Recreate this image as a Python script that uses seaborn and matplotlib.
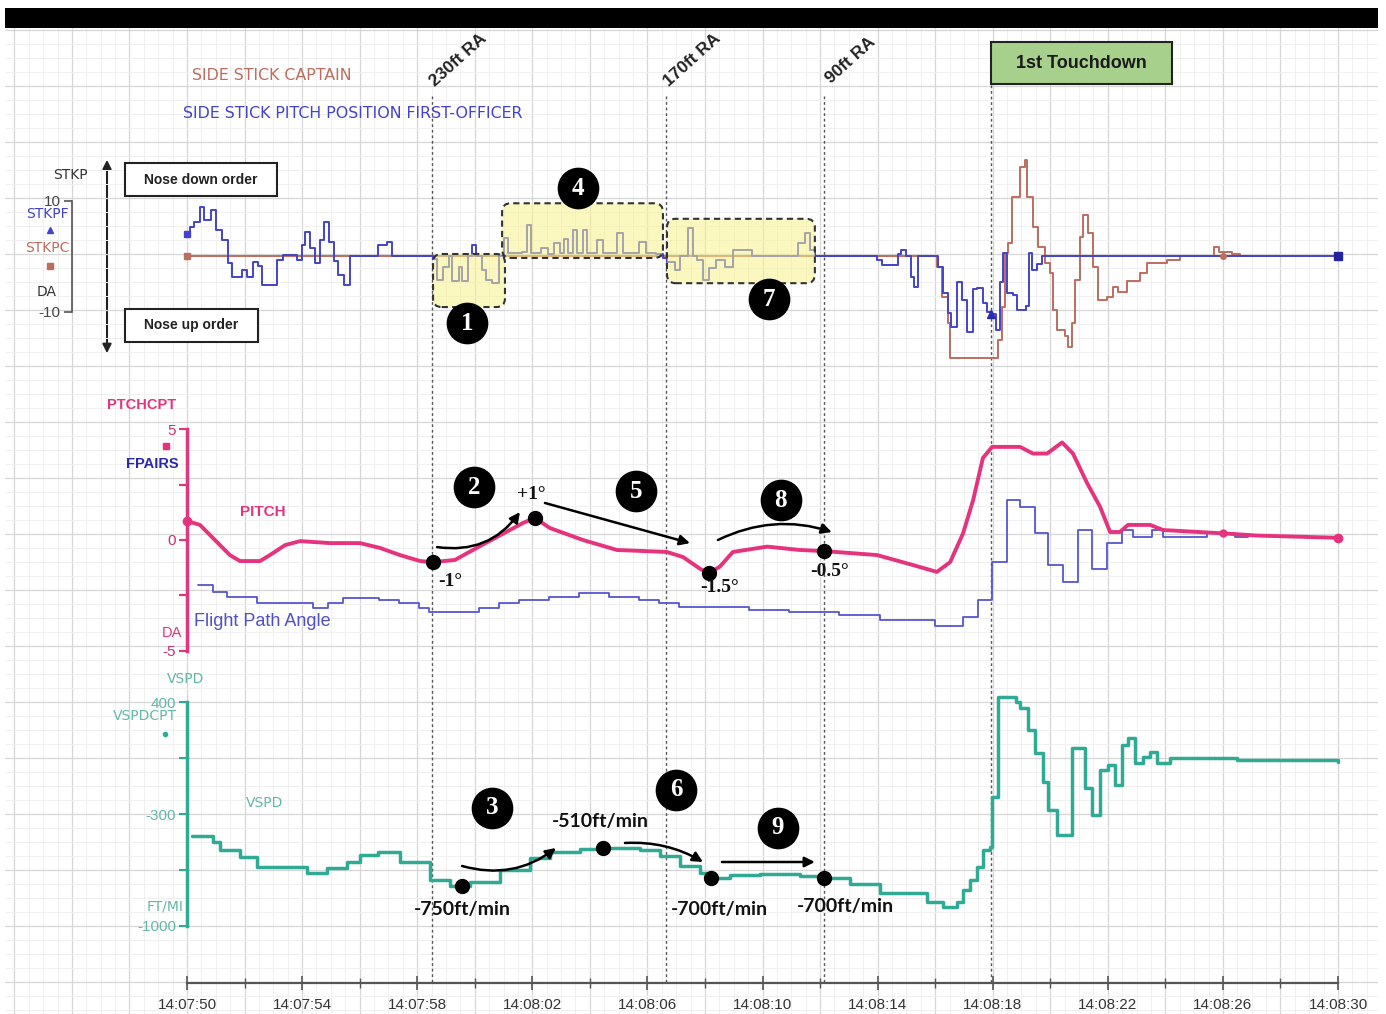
import numpy as np
import pandas as pd
import matplotlib
matplotlib.use("Agg")
import matplotlib.pyplot as plt
import seaborn as sns
from matplotlib.patches import Rectangle, FancyBboxPatch, FancyArrowPatch
from matplotlib.lines import Line2D
from matplotlib.transforms import blended_transform_factory
from matplotlib.ticker import MultipleLocator, FixedLocator

# ---------------------------------------------------------------- data
# time axis labels (UTC) and elapsed seconds from the first one
time_labels = ["14:07:50", "14:07:54", "14:07:58", "14:08:02", "14:08:06", "14:08:10",
               "14:08:14", "14:08:18", "14:08:22", "14:08:26", "14:08:30"]

# event markers (s after 14:07:50)
ra_times = [8.51, 16.65, 22.14]
ra_labels = ["230ft RA", "170ft RA", "90ft RA"]
touchdown_time = 27.94

# side stick pitch position, first officer (deg, step samples)
fo_t = [0.00, 0.10, 0.25, 0.45, 0.60, 0.85, 1.00, 1.20, 1.42, 1.56,
        1.91, 2.08, 2.30, 2.47, 2.61, 3.13, 3.34, 3.82, 4.00, 4.10,
        4.27, 4.45, 4.62, 4.75, 4.95, 5.10, 5.25, 5.45, 5.66, 6.64,
        6.95, 7.12, 8.55, 8.70, 8.90, 9.10, 9.20, 9.45, 9.55, 9.75,
        9.90, 10.05, 10.25, 10.40, 10.60, 10.85, 11.00, 11.15, 11.65, 11.80,
        11.95, 12.30, 12.55, 12.75, 12.95, 13.10, 13.25, 13.40, 13.55, 13.75,
        13.90, 14.25, 14.45, 14.95, 15.15, 15.70, 15.95, 16.30, 16.55, 16.68,
        16.96, 17.13, 17.41, 17.58, 17.72, 17.93, 18.15, 18.40, 18.70, 18.98,
        19.63, 21.23, 21.48, 21.64, 21.82, 23.98, 24.15, 24.70, 24.80, 25.00,
        25.15, 25.25, 25.40, 26.10, 26.27, 26.45, 26.55, 26.75, 26.95, 27.10,
        27.30, 27.45, 27.65, 27.80, 27.95, 28.10, 28.25, 28.36, 28.50, 28.70,
        28.84, 29.15, 29.25, 29.35, 29.55, 29.70, 40.00]
fo_v = [4.0, 5.2, 6.1, 8.8, 6.5, 8.3, 4.7, 2.9, -1.3, -3.7,
        -2.5, -3.7, -1.1, -1.8, -5.2, -0.7, 0.2, -0.8, 2.0, 4.3,
        1.5, -1.2, 2.9, 6.1, 2.5, -0.9, -3.4, -5.2, 0.0, 2.0,
        2.5, 0.0, -0.5, -4.3, -2.0, 0.0, -4.5, -2.0, -4.5, 0.0,
        2.0, 0.0, -2.5, -4.3, -4.9, 0.0, 3.2, 0.5, 0.8, 5.6,
        0.5, 1.5, 0.4, 2.3, 0.5, 3.0, 0.5, 4.7, 0.5, 4.7,
        0.5, 2.9, 0.5, 4.2, 0.5, 2.5, 0.5, 0.3, -0.3, -1.0,
        -2.5, 0.0, 5.0, 0.0, -0.8, -4.3, -2.2, -0.7, -2.0, 1.0,
        0.0, 2.3, 4.1, 1.0, 0.0, -0.8, -1.6, 0.3, 1.0, 0.0,
        -3.8, -5.6, 0.0, -2.0, -6.7, -10.3, -12.8, -4.7, -8.0, -13.7,
        -6.0, -5.8, -8.5, -10.1, -10.5, -13.3, -4.7, 0.5, -6.7, -7.0,
        -9.7, -9.0, 0.5, -2.5, -1.5, 0.0, 0.0]

# side stick, captain (deg, step samples)
cap_t = [0.0, 26.06, 26.25, 26.45, 26.52, 28.18, 28.32, 28.43, 28.53, 28.67,
         28.95, 29.12, 29.19, 29.40, 29.57, 29.82, 29.99, 30.10, 30.23, 30.51,
         30.62, 30.76, 30.86, 31.03, 31.14, 31.31, 31.49, 31.66, 31.97, 32.18,
         32.35, 32.67, 33.12, 33.36, 34.06, 34.50, 35.70, 35.85, 36.30, 36.60, 38.60]
cap_v = [0.0, -2.0, -7.4, -12.0, -18.4, -15.1, -9.2, 0.5, 2.3, 10.6,
         16.0, 17.3, 10.6, 5.2, 1.6, -1.3, -3.1, -9.7, -13.3, -14.5,
         -16.4, -12.0, -4.3, 3.4, 7.4, 4.1, -2.0, -7.9, -7.4, -5.6,
         -6.5, -4.5, -3.1, -1.3, -0.8, 0.0, 1.6, 0.8, 0.3, 0.0, 0.0]

# pitch attitude (deg)
pitch_t = [0.00, 0.45, 0.97, 1.49, 1.84, 2.54, 2.88, 3.41, 3.93, 4.97,
           6.01, 6.71, 7.40, 8.10, 8.55, 9.31, 10.29, 11.22, 11.68, 12.09,
           12.61, 13.76, 14.94, 16.68, 17.24, 17.83, 18.14, 18.52, 18.97, 20.16,
           21.30, 22.14, 23.98, 25.23, 26.06, 26.52, 26.97, 27.32, 27.66, 27.98,
           28.95, 29.40, 29.89, 30.41, 30.79, 31.28, 31.73, 32.08, 32.42, 32.70,
           33.47, 33.92, 36.00, 37.19, 40.00]
pitch_v = [0.86, 0.68, 0.0, -0.68, -0.95, -0.95, -0.68, -0.23, -0.05, -0.14,
           -0.14, -0.36, -0.68, -0.95, -1.0, -0.9, -0.2, 0.45, 0.77, 1.0,
           0.54, 0.0, -0.45, -0.54, -0.77, -1.3, -1.5, -1.2, -0.54, -0.3,
           -0.45, -0.5, -0.68, -1.13, -1.44, -1.0, 0.3, 1.8, 3.7, 4.2,
           4.2, 3.9, 3.9, 4.4, 3.9, 2.57, 1.5, 0.36, 0.36, 0.68,
           0.68, 0.45, 0.3, 0.2, 0.1]

# flight path angle (deg, step samples)
fpa_t = [0.38, 0.90, 1.39, 2.43, 4.38, 4.90, 5.42, 6.67, 7.37, 8.06,
         8.41, 10.15, 10.84, 11.54, 12.58, 13.62, 14.67, 15.71, 16.40, 17.10,
         18.49, 19.53, 20.92, 22.66, 24.08, 25.99, 26.97, 27.49, 27.98, 28.50,
         28.95, 29.47, 29.92, 30.44, 30.96, 31.45, 31.97, 32.49, 32.88, 33.54,
         33.92, 35.45, 36.42, 36.87]
fpa_v = [-2.03, -2.34, -2.57, -2.84, -3.06, -2.84, -2.6, -2.7, -2.84, -3.06,
         -3.24, -3.06, -2.84, -2.7, -2.57, -2.39, -2.57, -2.7, -2.84, -3.02,
         -3.02, -3.15, -3.24, -3.38, -3.6, -3.9, -3.47, -2.7, -0.99, 1.8,
         1.5, 0.3, -1.13, -1.9, 0.45, -1.3, -0.14, 0.45, 0.14, 0.45,
         0.14, 0.3, 0.14, 0.14]

# vertical speed (ft/min, step samples)
vspd_t = [0.17, 0.90, 1.15, 1.84, 2.43, 4.17, 4.87, 5.56, 6.01, 6.64,
          7.40, 8.44, 9.14, 9.83, 10.88, 11.92, 12.61, 13.66, 14.35, 15.74,
          16.44, 17.13, 17.83, 18.21, 18.87, 19.91, 21.30, 22.14, 23.04, 24.08,
          25.72, 26.27, 26.76, 26.97, 27.21, 27.45, 27.66, 27.91, 27.98, 28.18,
          28.80, 28.95, 29.23, 29.47, 29.75, 29.92, 30.23, 30.76, 31.21, 31.45,
          31.73, 32.01, 32.26, 32.49, 32.70, 32.94, 33.22, 33.47, 33.71, 34.16,
          36.49, 40.00]
vspd_v = [-437, -475, -525, -569, -631, -669, -637, -600, -556, -537,
          -600, -712, -750, -725, -650, -575, -540, -520, -510, -525,
          -560, -625, -670, -700, -680, -675, -690, -700, -740, -794,
          -850, -881, -850, -775, -712, -631, -525, -506, -194, 431,
          400, 362, 225, 81, -100, -275, -431, 112, -137, -306,
          -25, 6, -119, 131, 175, 19, 56, 87, 19, 50,
          37, 25]

# called-out values
pitch_mark_t = [8.55, 12.09, 18.14, 22.14]
pitch_mark_v = [-1.0, 1.0, -1.5, -0.5]
pitch_mark_txt = ["-1°", "+1°", "-1.5°", "-0.5°"]
vspd_mark_t = [9.56, 14.46, 18.21, 22.14]
vspd_mark_v = [-750, -510, -700, -700]
vspd_mark_txt = ["-750ft/min", "-510ft/min", "-700ft/min", "-700ft/min"]

# ---------------------------------------------------------------- style
sns.set_style("ticks")
plt.rcParams["font.family"] = ["Liberation Sans", "DejaVu Sans"]
plt.rcParams["axes.unicode_minus"] = False

LBL = dict(family=["DejaVu Sans"], fontsize=10)

C_FO = "#4343cc"
C_CAP = "#bd6d5e"
C_PITCH = "#e6337d"
C_FPA = "#5656cf"
C_VSPD = "#2fab95"
C_VSPD_TXT = "#62b8a8"

W, H = 1386, 1014
fig = plt.figure(figsize=(W / 100, H / 100), dpi=100)

T0_PX, PX_PER_S = 187, 28.775
X_LEFT, X_RIGHT = 5, 1378


def t_of(px):
    return (px - T0_PX) / PX_PER_S


XLIM = (t_of(X_LEFT), t_of(X_RIGHT))


def fpx(x, y):
    return x / W, 1 - y / H


def add_panel(y_top, y_bot, ylim, z):
    ax = fig.add_axes([X_LEFT / W, 1 - y_bot / H, (X_RIGHT - X_LEFT) / W, (y_bot - y_top) / H],
                      zorder=z)
    ax.set_xlim(XLIM)
    ax.set_ylim(ylim)
    ax.patch.set_alpha(0)
    for s in ax.spines.values():
        s.set_visible(False)
    ax.set_xticks([])
    ax.set_yticks([])
    return ax


def key_marker(x, y, marker, color, size):
    fig.add_artist(Line2D([x / W], [1 - y / H], marker=marker, color=color, ms=size,
                          ls="none", transform=fig.transFigure))


# black title bar
fig.patches.append(Rectangle(fpx(5, 28), 1373 / W, 20 / H, transform=fig.transFigure,
                             facecolor="black", edgecolor="none", zorder=0))

# background grid
ax_bg = add_panel(28, 1014, (0, 986 / 56), 1)
ax_bg.xaxis.set_major_locator(MultipleLocator(2))
ax_bg.xaxis.set_minor_locator(MultipleLocator(0.5))
grid_y = (1014 - 702) / 56 + np.arange(-6, 13)
ax_bg.yaxis.set_major_locator(FixedLocator(grid_y))
ax_bg.yaxis.set_minor_locator(FixedLocator(np.concatenate([grid_y + f for f in (0.25, 0.5, 0.75)])))
ax_bg.grid(which="major", color="#d6d6d6", lw=0.9)
ax_bg.grid(which="minor", color="#f0f0f0", lw=0.7)
ax_bg.tick_params(which="both", length=0, labelleft=False, labelbottom=False)
ax_bg.set_axisbelow(True)

# event lines through all panels
bt = blended_transform_factory(ax_bg.transData, fig.transFigure)
for tt in ra_times:
    ax_bg.plot([tt, tt], [1 - 96 / H, 1 - 983 / H], transform=bt, color="#555555",
               lw=1.0, ls=(0, (2, 2)), zorder=2)
ax_bg.plot([touchdown_time] * 2, [1 - 85 / H, 1 - 983 / H], transform=bt, color="#555555",
           lw=1.0, ls=(0, (2, 2)), zorder=2)

# ---------------------------------------------------------------- top panel: side sticks
ax_top = add_panel(145, 367, (-20, 20), 2)
sns.lineplot(x=cap_t, y=cap_v, ax=ax_top, color=C_CAP, lw=1.4, drawstyle="steps-post",
             estimator=None, sort=False)
sns.lineplot(x=fo_t, y=fo_v, ax=ax_top, color=C_FO, lw=1.4, drawstyle="steps-post",
             estimator=None, sort=False)
ax_top.plot(cap_t[0], cap_v[0], "s", color=C_CAP, ms=4, zorder=4)
ax_top.plot(36.0, 0.0, "o", color=C_CAP, ms=4, zorder=4)
ax_top.plot(fo_t[0], fo_v[0], "s", color=C_FO, ms=4, zorder=4)
ax_top.plot(27.95, -10.5, "^", color="#2b2bb0", ms=6, zorder=4)
ax_top.plot(fo_t[-1], fo_v[-1], "s", color="#22229a", ms=6, zorder=4)

ax_top.spines["left"].set_visible(True)
ax_top.spines["left"].set_position(("data", -4.0))
ax_top.spines["left"].set_bounds(-10, 10)
ax_top.spines["left"].set_color("#555555")
ax_top.spines["left"].set_linewidth(1.2)
ax_top.set_yticks([-10, 10])
ax_top.tick_params(axis="y", left=True, direction="out", length=6, width=1.2,
                   color="#555555", labelcolor="#444444", labelsize=11, pad=2)

# highlighted stick activity zones
aspect = PX_PER_S / (222 / 40)
for (x0, x1, y0, y1) in [(8.55, 11.05, -9.2, 0.36), (10.95, 16.54, -0.36, 9.5),
                         (16.68, 21.82, -4.9, 6.7)]:
    ax_top.add_patch(FancyBboxPatch((x0, y0), x1 - x0, y1 - y0,
                                    boxstyle="round,pad=0,rounding_size=0.3",
                                    mutation_aspect=aspect, facecolor=(0.97, 0.95, 0.55, 0.55),
                                    edgecolor="#333333", lw=1.5, ls=(0, (3, 2)), zorder=5))


def badge(ax, x, y, n):
    ax.plot(x, y, "o", color="black", ms=29, zorder=8, clip_on=False)
    ax.text(x, y, str(n), color="white", ha="center", va="center", fontsize=18,
            fontweight="bold", family="Liberation Serif", zorder=9)


for x, y, n in [(9.73, -12.1, 1), (13.59, 12.25, 4), (20.23, -7.75, 7)]:
    badge(ax_top, x, y, n)

# top-left labels
fig.text(*fpx(70, 175), "STKP", ha="center", va="center", color="#333333", **LBL)
fig.text(*fpx(69, 214), "STKPF", ha="right", va="center", color=C_FO, **LBL)
key_marker(50, 230, "^", C_FO, 4.5)
fig.text(*fpx(70, 248), "STKPC", ha="right", va="center", color=C_CAP, **LBL)
key_marker(50, 266, "s", C_CAP, 4)
fig.text(*fpx(47, 292), "DA", ha="center", va="center", color="#333333", **LBL)
fig.text(*fpx(192, 75), "SIDE STICK CAPTAIN", ha="left", va="center", color=C_CAP,
         family=["DejaVu Sans"], fontsize=11.4)
fig.text(*fpx(183, 114), "SIDE STICK PITCH POSITION FIRST-OFFICER", ha="left", va="center",
         color=C_FO, family=["DejaVu Sans"], fontsize=11.4)

fig.add_artist(FancyArrowPatch(fpx(107, 157), fpx(107, 356), transform=fig.transFigure,
                               arrowstyle="<|-|>", mutation_scale=13, lw=1.5, color="#222222"))
for (x0, y0, x1, y1, s) in [(125, 163, 277, 196, "Nose down order"),
                            (125, 309, 258, 342, "Nose up order")]:
    fig.patches.append(Rectangle(fpx(x0, y1), (x1 - x0) / W, (y1 - y0) / H,
                                 transform=fig.transFigure, facecolor="white",
                                 edgecolor="#222222", lw=1.5, zorder=3))
    fig.text(*fpx((x0 + x1) / 2, (y0 + y1) / 2), s, ha="center", va="center", fontsize=10,
             fontweight="bold", color="#222222", zorder=4)

for tt, lab in zip(ra_times, ra_labels):
    fig.text(ax_bg.transData.transform((tt, 0))[0] / W + 26 / W, 1 - 60 / H, lab,
             rotation=42, ha="center", va="center", rotation_mode="anchor",
             fontsize=12.5, fontweight="bold", color="#222222")

fig.patches.append(Rectangle(fpx(991, 84), 181 / W, 42 / H, transform=fig.transFigure,
                             facecolor="#a8d08d", edgecolor="#222222", lw=1.5, zorder=3))
fig.text(*fpx(1081, 63), "1st Touchdown", ha="center", va="center", fontsize=13,
         fontweight="bold", color="#1a1a1a", zorder=4)

# ---------------------------------------------------------------- middle panel: pitch / FPA
ax_mid = add_panel(407, 673, (-6, 6), 3)
sns.lineplot(x=fpa_t, y=fpa_v, ax=ax_mid, color=C_FPA, lw=1.3, drawstyle="steps-post",
             estimator=None, sort=False)
sns.lineplot(x=pitch_t, y=pitch_v, ax=ax_mid, color=C_PITCH, lw=2.8,
             estimator=None, sort=False)
ax_mid.plot(pitch_t[0], pitch_v[0], "o", color=C_PITCH, ms=6, zorder=4)
ax_mid.plot(36.0, 0.3, "o", color=C_PITCH, ms=5, zorder=4)
ax_mid.plot(pitch_t[-1], pitch_v[-1], "o", color=C_PITCH, ms=6, zorder=4)

ax_mid.spines["left"].set_visible(True)
ax_mid.spines["left"].set_position(("data", 0))
ax_mid.spines["left"].set_bounds(-5, 5)
ax_mid.spines["left"].set_color(C_PITCH)
ax_mid.spines["left"].set_linewidth(2.5)
ax_mid.set_yticks([-5, 0, 5])
ax_mid.set_yticks([-2.5, 2.5], minor=True)
ax_mid.tick_params(axis="y", which="both", left=True, direction="out", length=6, width=1.5,
                   color=C_PITCH, labelcolor="#c9306f", labelsize=11, pad=2)

fig.text(*fpx(142, 405), "PTCHCPT", ha="center", va="center", fontsize=10.5,
         fontweight="bold", color=C_PITCH)
key_marker(166, 446, "s", C_PITCH, 4)
fig.text(*fpx(152, 464), "FPAIRS", ha="center", va="center", fontsize=10.5,
         fontweight="bold", color="#2a2aa8")
fig.text(*fpx(172, 633), "DA", ha="center", va="center", fontsize=10.5, color=C_PITCH)
ax_mid.text(2.64, 1.26, "PITCH", ha="center", va="center", fontsize=11, fontweight="bold",
            color=C_PITCH)
ax_mid.text(0.24, -3.69, "Flight Path Angle", ha="left", va="center", fontsize=13,
            color="#4f4fc6")

ax_mid.plot(pitch_mark_t, pitch_mark_v, "o", color="black", ms=10, zorder=6, ls="none")
for (x, y), s in zip([(9.14, -1.89), (11.95, 2.07), (18.52, -2.16), (22.35, -1.44)],
                     pitch_mark_txt):
    ax_mid.text(x, y, s, ha="center", va="center", fontsize=14, fontweight="bold",
                family="Liberation Serif", color="#111111", zorder=7)

arrow_kw = dict(arrowstyle="-|>", mutation_scale=15, lw=1.8, color="black")
for (p0, p1, rad) in [((8.69, -0.32), (11.57, 1.26), 0.3),
                      ((12.44, 1.67), (17.48, -0.14), 0.0),
                      ((18.45, 0.0), (22.41, 0.36), -0.2)]:
    ax_mid.annotate("", xy=p1, xytext=p0,
                    arrowprops=dict(connectionstyle=f"arc3,rad={rad}", shrinkA=0, shrinkB=0,
                                    **arrow_kw), zorder=7)

for x, y, n in [(9.97, 2.39, 2), (15.6, 2.2, 5), (20.64, 1.8, 8)]:
    badge(ax_mid, x, y, n)

# ---------------------------------------------------------------- bottom panel: vertical speed
ax_bot = add_panel(686, 983, (-1356.25, 500), 4)
sns.lineplot(x=vspd_t, y=vspd_v, ax=ax_bot, color=C_VSPD, lw=2.5, drawstyle="steps-post",
             estimator=None, sort=False)

ax_bot.spines["left"].set_visible(True)
ax_bot.spines["left"].set_position(("data", 0))
ax_bot.spines["left"].set_bounds(-1000, 400)
ax_bot.spines["left"].set_color(C_VSPD)
ax_bot.spines["left"].set_linewidth(2.5)
ax_bot.set_yticks([-1000, -300, 400])
ax_bot.set_yticks([-650, 50], minor=True)
ax_bot.tick_params(axis="y", which="both", left=True, direction="out", length=6, width=1.5,
                   color=C_VSPD, labelcolor=C_VSPD_TXT, labelsize=11, pad=2)

secs = (pd.to_timedelta(time_labels) - pd.to_timedelta(time_labels[0])).total_seconds()
ax_bot.spines["bottom"].set_visible(True)
ax_bot.spines["bottom"].set_bounds(secs[0], secs[-1])
ax_bot.spines["bottom"].set_color("#555555")
ax_bot.spines["bottom"].set_linewidth(1.6)
ax_bot.set_xticks(secs)
ax_bot.set_xticklabels(time_labels)
ax_bot.xaxis.set_minor_locator(FixedLocator(np.arange(secs[0], secs[-1] + 0.1, 2)))
ax_bot.tick_params(axis="x", which="major", bottom=True, direction="inout", length=10, width=1.2,
                   color="#555555", labelcolor="#333333", labelsize=11, pad=6)
ax_bot.tick_params(axis="x", which="minor", bottom=True, direction="inout", length=7, width=1.0,
                   color="#555555")

fig.text(*fpx(186, 679), "VSPD", ha="center", va="center", color=C_VSPD_TXT, **LBL)
fig.text(*fpx(145, 716), "VSPDCPT", ha="center", va="center", color=C_VSPD_TXT, **LBL)
key_marker(165, 734, "o", C_VSPD, 3)
fig.text(*fpx(183, 907), "FT/MI", ha="right", va="center", color=C_VSPD_TXT, **LBL)
ax_bot.text(2.68, -231, "VSPD", ha="center", va="center", color=C_VSPD_TXT, **LBL)

ax_bot.plot(vspd_mark_t, vspd_mark_v, "o", color="black", ms=10, zorder=6, ls="none")
for (x, y), s in zip([(9.56, -900), (14.35, -344), (18.49, -894), (22.87, -881)],
                     vspd_mark_txt):
    ax_bot.text(x, y, s, ha="center", va="center", fontsize=14, fontweight="bold",
                family="Lato", color="#111111", zorder=7)

for (p0, p1, rad) in [((9.56, -625), (12.82, -512.5), 0.25),
                      ((15.22, -481), (17.93, -600), -0.15),
                      ((18.59, -600), (21.82, -600), 0.0)]:
    ax_bot.annotate("", xy=p1, xytext=p0,
                    arrowprops=dict(connectionstyle=f"arc3,rad={rad}", shrinkA=0, shrinkB=0,
                                    **arrow_kw), zorder=7)

for x, y, n in [(10.6, -262.5, 3), (16.99, -150, 6), (20.54, -387.5, 9)]:
    badge(ax_bot, x, y, n)

fig.savefig("out.png", dpi=100)
